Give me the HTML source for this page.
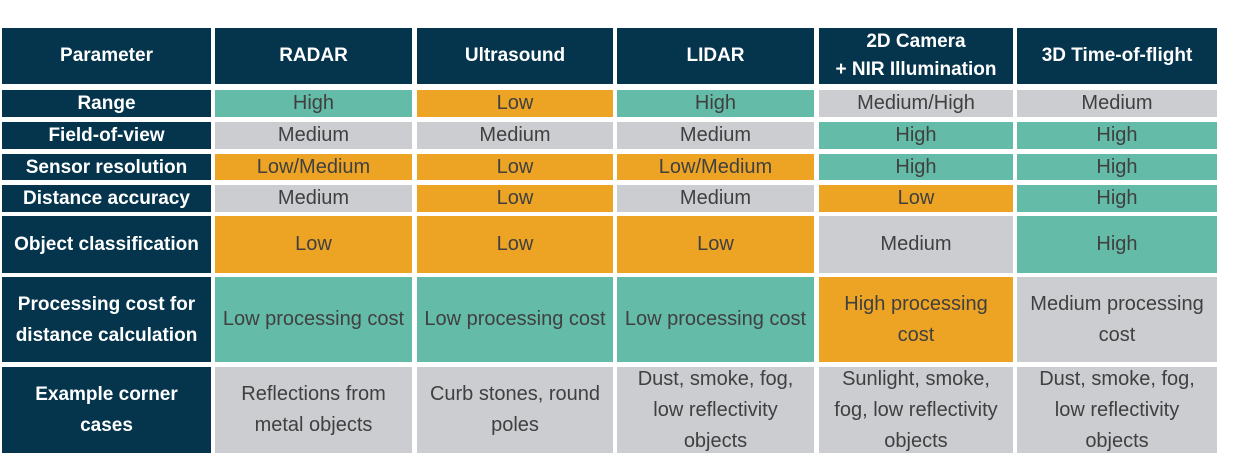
<!DOCTYPE html>
<html><head><meta charset="utf-8"><style>
body{margin:0;width:1250px;height:471px;background:#fff;overflow:hidden;position:relative;font-family:"Liberation Sans",sans-serif;}
.c{position:absolute;display:flex;align-items:center;justify-content:center;text-align:center;box-sizing:border-box;line-height:31px;font-size:20px;color:#404040;white-space:nowrap;}
.h{background:#05354d;color:#fff;font-weight:bold;font-size:19px;}
.hh{line-height:28px;}
.t{background:#63bba8;}.o{background:#eda424;}.g{background:#cbcdd0;}
</style></head><body>
<script>
const xs=[[2,211],[215,412],[417,613],[617,814],[819,1013],[1017,1217]];
const ys=[[28,84],[90,117],[122,149],[154,180],[185,212],[216,273],[277,362],[367,453]];
const headers=["Parameter","RADAR","Ultrasound","LIDAR","2D Camera<br>+ NIR Illumination","3D Time-of-flight"];
const rowLabels=["Range","Field-of-view","Sensor resolution","Distance accuracy","Object classification","Processing cost for<br>distance calculation","Example corner<br>cases"];
const values=[
[["High","t"],["Low","o"],["High","t"],["Medium/High","g"],["Medium","g"]],
[["Medium","g"],["Medium","g"],["Medium","g"],["High","t"],["High","t"]],
[["Low/Medium","o"],["Low","o"],["Low/Medium","o"],["High","t"],["High","t"]],
[["Medium","g"],["Low","o"],["Medium","g"],["Low","o"],["High","t"]],
[["Low","o"],["Low","o"],["Low","o"],["Medium","g"],["High","t"]],
[["Low processing cost","t"],["Low processing cost","t"],["Low processing cost","t"],["High processing<br>cost","o"],["Medium processing<br>cost","g"]],
[["Reflections from<br>metal objects","g"],["Curb stones, round<br>poles","g"],["Dust, smoke, fog,<br>low reflectivity<br>objects","g"],["Sunlight, smoke,<br>fog, low reflectivity<br>objects","g"],["Dust, smoke, fog,<br>low reflectivity<br>objects","g"]]
];
function cell(x,y,cls,html,name){
  const d=document.createElement('div');
  d.className='c '+cls;
  d.style.left=x[0]+'px';d.style.width=(x[1]-x[0])+'px';
  d.style.top=y[0]+'px';d.style.height=(y[1]-y[0])+'px';
  d.innerHTML=html;
  
  
  document.body.appendChild(d);
}
headers.forEach((h,i)=>cell(xs[i],ys[0],'h hh',h,'header-cell'));
rowLabels.forEach((r,i)=>{
  cell(xs[0],ys[i+1],'h',r,'row-label');
  values[i].forEach((v,j)=>cell(xs[j+1],ys[i+1],v[1],v[0],'value-cell'));
});
</script>
</body></html>
